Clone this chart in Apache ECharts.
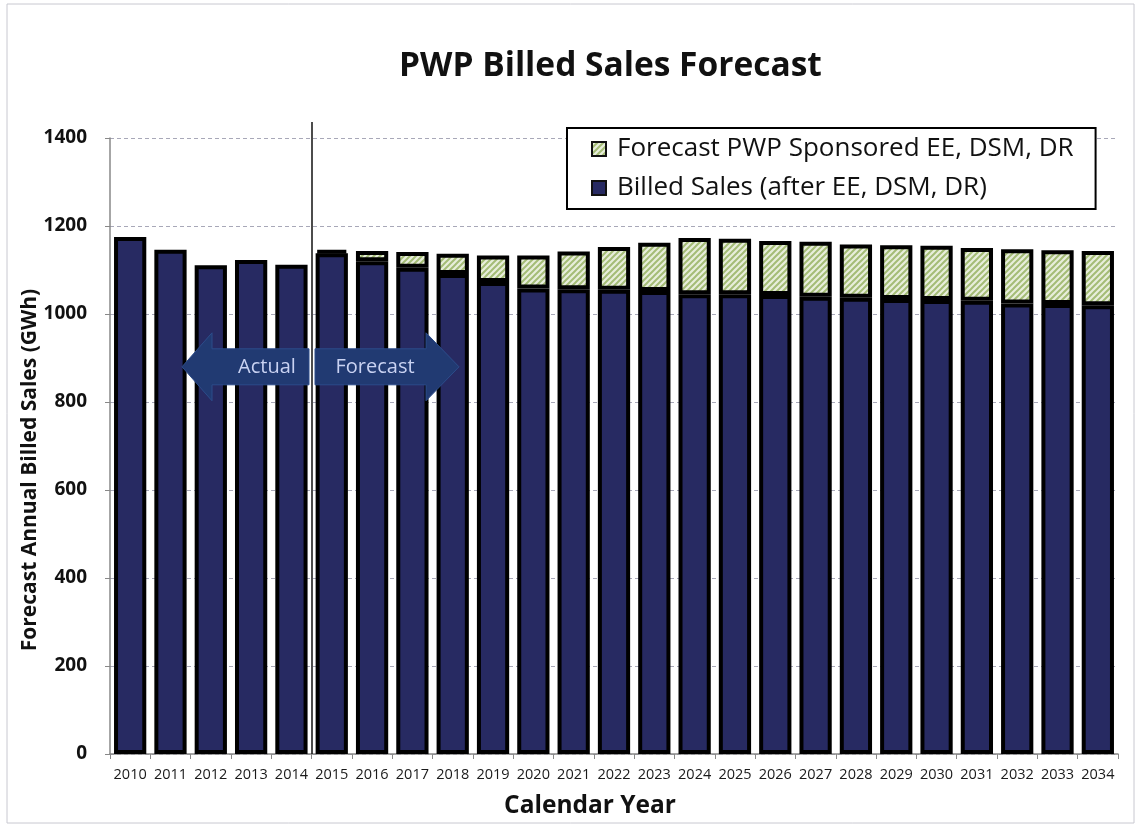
<!DOCTYPE html>
<html>
<head>
<meta charset="utf-8">
<script src="https://cdn.jsdelivr.net/npm/echarts@6/dist/echarts.min.js"></script>
<style>
  html, body { margin: 0; padding: 0; background: #fff; }
  #chart { width: 1141px; height: 827px; }
</style>
</head>
<body>
<div id="chart"></div>
<script>
// values (GWh)
const years = ['2010', '2011', '2012', '2013', '2014', '2015', '2016', '2017', '2018', '2019', '2020', '2021',
  '2022', '2023', '2024', '2025', '2026', '2027', '2028', '2029', '2030', '2031', '2032', '2033', '2034'];
const billedSales = [1175, 1146, 1111, 1123, 1112, 1138, 1120, 1105, 1091, 1073, 1058, 1056,
  1055, 1052, 1045, 1045, 1043, 1039, 1037, 1034, 1032, 1030, 1024, 1023, 1020];
const sponsoredEE = [null, null, null, null, null, 7, 23, 36, 46, 60, 75, 86,
  97, 110, 128, 126, 123, 125, 121, 122, 123, 120, 123, 122, 123];
const yTicks = [0, 200, 400, 600, 800, 1000, 1200, 1400];

const EE_NAME = 'Forecast PWP Sponsored EE, DSM, DR';
const BILLED_NAME = 'Billed Sales (after EE, DSM, DR)';
const FONT = '"Open Sans", "DejaVu Sans", sans-serif';

// green hatch like the Excel pattern fill
function hatchPattern() {
    const c = document.createElement('canvas');
    c.width = 6;
    c.height = 6;
    const g = c.getContext('2d');
    g.fillStyle = '#e8eedb';
    g.fillRect(0, 0, 6, 6);
    g.strokeStyle = '#a4bc76';
    g.lineWidth = 2;
    g.beginPath();
    g.moveTo(-1, 7); g.lineTo(7, -1);
    g.moveTo(-1, 1); g.lineTo(1, -1);
    g.moveTo(5, 7); g.lineTo(7, 5);
    g.stroke();
    return c;
}

const chart = echarts.init(document.getElementById('chart'));

chart.setOption({
    backgroundColor: '#fff',
    animation: false,
    title: {
        text: 'PWP Billed Sales Forecast',
        left: 394,
        top: 44,
        textStyle: { fontFamily: FONT, fontSize: 33.5, fontWeight: 'bold', color: '#111' }
    },
    legend: {
        data: [EE_NAME, BILLED_NAME],
        orient: 'vertical',
        icon: 'rect',
        left: 567,
        top: 128,
        padding: [8, 22, 8, 24],
        itemGap: 13,
        itemWidth: 14,
        itemHeight: 14,
        backgroundColor: '#fff',
        borderColor: '#000',
        borderWidth: 2,
        itemStyle: { borderWidth: 2, borderColor: '#111' },
        textStyle: { fontFamily: FONT, fontSize: 26, color: '#111', padding: [0, 0, 0, 6] }
    },
    grid: { left: 110, right: 23, top: 138, bottom: 73 },
    xAxis: {
        type: 'category',
        data: years,
        name: 'Calendar Year',
        nameLocation: 'middle',
        nameGap: 40,
        nameTextStyle: { fontFamily: FONT, fontSize: 24.5, fontWeight: 'bold', color: '#111', padding: [0, 48, 0, 0] },
        axisLine: { lineStyle: { color: '#888', width: 1.5 } },
        axisTick: { show: true, length: 5, lineStyle: { color: '#888' } },
        axisLabel: { interval: 0, fontFamily: FONT, fontSize: 14.5, color: '#1a1a1a', margin: 13 }
    },
    yAxis: {
        type: 'value',
        min: 0,
        max: yTicks[yTicks.length - 1],
        interval: 200,
        axisLine: { show: true, lineStyle: { color: '#888', width: 1.5 } },
        axisTick: { show: true, length: 5, lineStyle: { color: '#888' } },
        axisLabel: {
            fontFamily: FONT, fontSize: 19, fontWeight: 'bold', color: '#111', margin: 23,
            formatter: (v) => String(v)
        },
        splitLine: { lineStyle: { color: '#a8a8b8', type: [4, 3] } }
    },
    series: [
        {
            name: BILLED_NAME,
            type: 'bar',
            stack: 'sales',
            barCategoryGap: '20%',
            data: billedSales,
            itemStyle: { color: '#272a62', borderColor: '#000', borderWidth: 4 }
        },
        {
            name: EE_NAME,
            type: 'bar',
            stack: 'sales',
            data: sponsoredEE,
            itemStyle: {
                color: { image: hatchPattern(), repeat: 'repeat' },
                borderColor: '#000',
                borderWidth: 4
            }
        }
    ]
});

// actual / forecast divider sits between 2014 and 2015
const xa = chart.convertToPixel({ xAxisIndex: 0 }, '2014');
const xb = chart.convertToPixel({ xAxisIndex: 0 }, '2015');
const divX = Math.round((xa + xb) / 2);
const yTop = chart.convertToPixel({ yAxisIndex: 0 }, yTicks[yTicks.length - 1]);
const yZero = chart.convertToPixel({ yAxisIndex: 0 }, 0);
const yMid = chart.convertToPixel({ yAxisIndex: 0 }, 880);

const arrowFill = '#213a72';
const arrowText = { fontFamily: FONT, fontSize: 20, fill: '#c9d2f2' };

chart.setOption({
    graphic: [
        {
            type: 'text',
            x: 30, y: 470,
            rotation: Math.PI / 2,
            style: {
                text: 'Forecast Annual Billed Sales (GWh)',
                align: 'center', verticalAlign: 'middle',
                fontFamily: FONT, fontSize: 21, fontWeight: 'bold', fill: '#111'
            }
        },
        {
            type: 'polygon',
            shape: {
                points: [
                    [divX - 130, yMid], [divX - 100, yMid - 34], [divX - 100, yMid - 18],
                    [divX - 3, yMid - 18], [divX - 3, yMid + 18], [divX - 100, yMid + 18],
                    [divX - 100, yMid + 34]
                ]
            },
            style: { fill: arrowFill, stroke: '#2c4c8a', lineWidth: 1 },
            z: 10
        },
        {
            type: 'polygon',
            shape: {
                points: [
                    [divX + 3, yMid - 18], [divX + 114, yMid - 18], [divX + 114, yMid - 34],
                    [divX + 147, yMid], [divX + 114, yMid + 34], [divX + 114, yMid + 18],
                    [divX + 3, yMid + 18]
                ]
            },
            style: { fill: arrowFill, stroke: '#2c4c8a', lineWidth: 1 },
            z: 10
        },
        {
            type: 'text',
            x: divX - 45, y: yMid,
            style: Object.assign({ text: 'Actual', align: 'center', verticalAlign: 'middle' }, arrowText),
            z: 11
        },
        {
            type: 'text',
            x: divX + 63, y: yMid,
            style: Object.assign({ text: 'Forecast', align: 'center', verticalAlign: 'middle' }, arrowText),
            z: 11
        },
        {
            type: 'line',
            shape: { x1: divX, y1: yTop - 16, x2: divX, y2: yZero },
            style: { stroke: '#111', lineWidth: 1.5 },
            z: 12
        },
        {
            type: 'rect',
            shape: { x: 7, y: 4, width: 1127, height: 819 },
            style: { fill: 'none', stroke: '#c8c8d0', lineWidth: 1 },
            silent: true
        }
    ]
});
</script>
</body>
</html>
